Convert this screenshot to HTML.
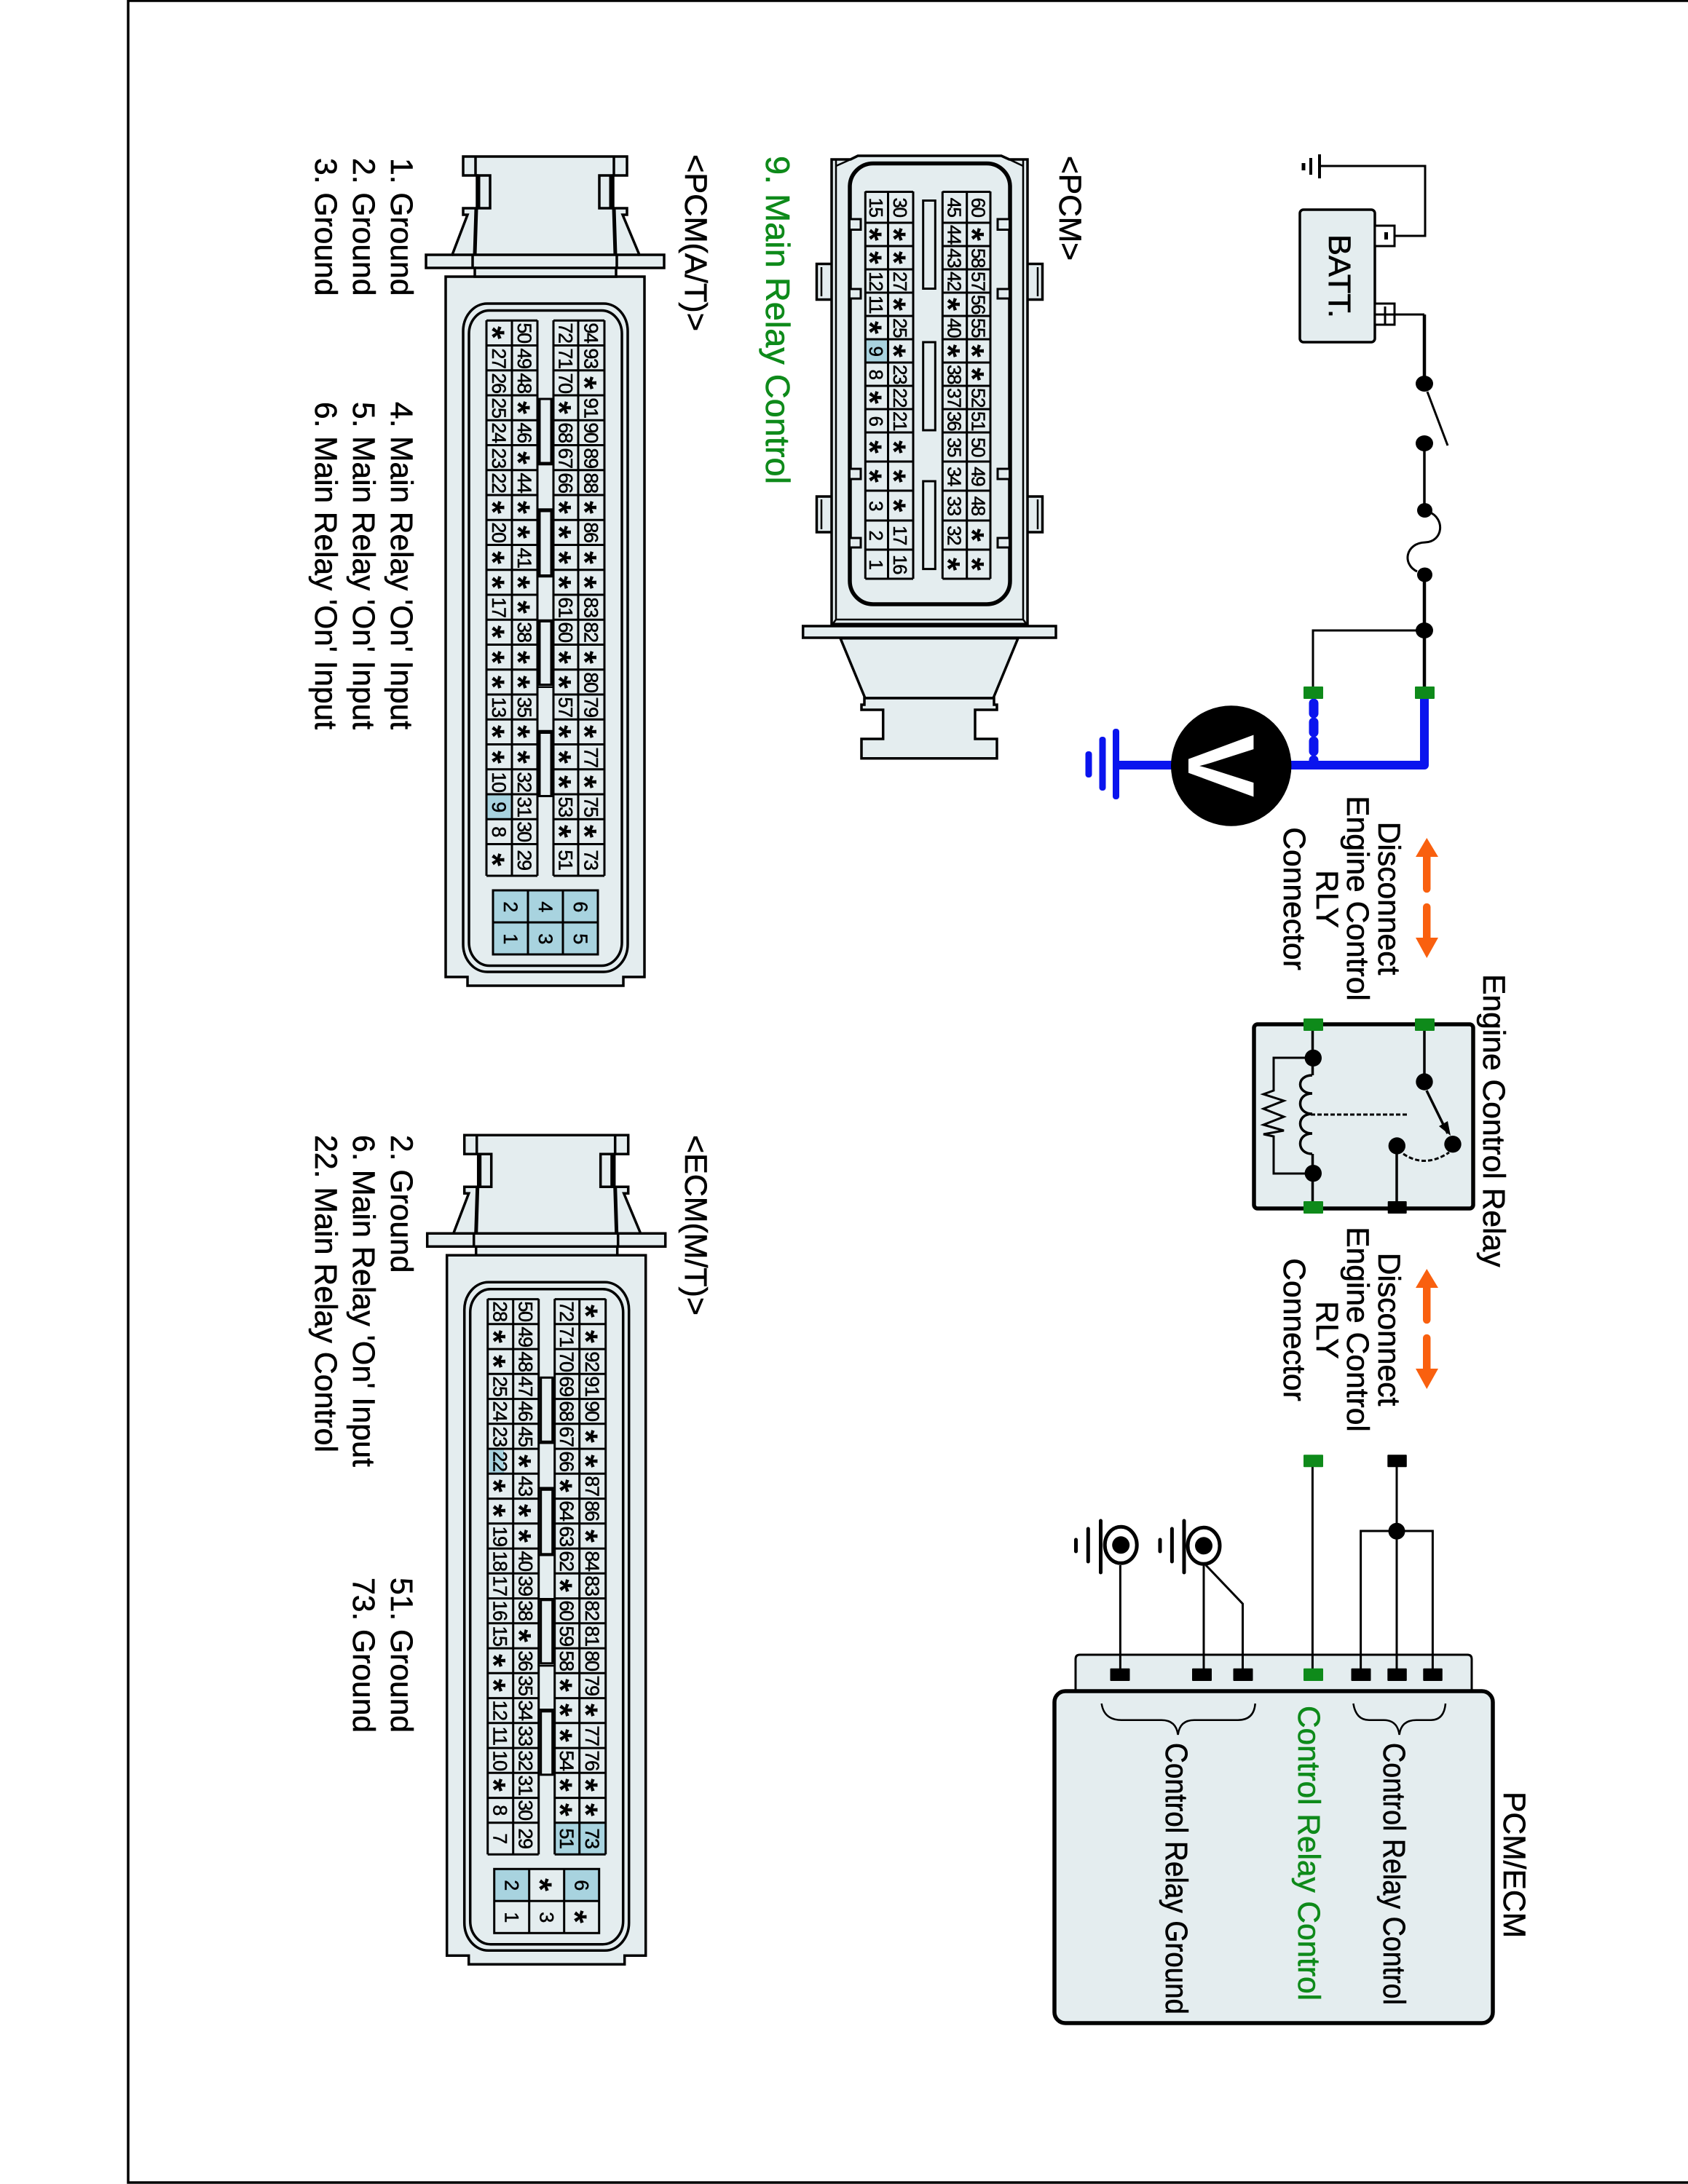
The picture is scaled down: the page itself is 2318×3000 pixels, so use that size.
<!DOCTYPE html>
<html lang="en"><head><meta charset="utf-8"><title>Main Relay Control</title>
<style>
html,body{margin:0;padding:0;background:#fff}
svg{display:block}
text{font-family:"Liberation Sans",Arial,sans-serif;fill:#000}
.n{font-size:27px;letter-spacing:-1.4px;text-anchor:middle;stroke:#000;stroke-width:.5}
.p{font-size:26px;letter-spacing:-1.4px;text-anchor:middle;stroke:#000;stroke-width:.5}
.s{font-size:46px;font-weight:bold;text-anchor:middle}
.l{font-size:42.6px;stroke:#000;stroke-width:.6}
.c{font-size:42.6px;text-anchor:middle;stroke:#000;stroke-width:.6}
.g{fill:#0e8a1a;stroke:#0e8a1a}
</style></head><body>
<svg xmlns="http://www.w3.org/2000/svg" width="2318" height="3000" viewBox="0 0 2318 3000">
<defs>
<g id="sh" fill="none" stroke="#000" stroke-width="3.5">
<path fill="#e4edef" d="M612 380H885V1342H856V1354H642V1342H612Z"/>
<path fill="#e4edef" d="M636 215H861V241H842V286H861V295H855L878 350H912V368H846V380H652V368H585V350H621L642 295H636V286H655V241H636Z"/>
<path d="M653 215V241M843 215V241M655 241H673V286H655M841 241H823V286H841M621 350H878M652 368H846M649 350V368M847 350V368"/>
<path stroke-width="5" d="M657 241V286M839 241V286M654 286L652 350M843 286L845 350"/>
<rect x="636" y="417" width="226" height="918" rx="33" ry="38"/>
<rect x="644" y="426.5" width="210" height="900" rx="28" ry="32"/>
</g>
<g id="gr" fill="none" stroke="#000" stroke-width="3">
<path stroke-dasharray="70 22 70 0" d="M668 440.3H830M668 474.5H830M668 508.8H830M668 543H830M668 577.3H830M668 611.5H830M668 645.8H830M668 680H830M668 714.3H830M668 748.5H830M668 782.8H830M668 817H830M668 851.3H830M668 885.5H830M668 919.8H830M668 954H830M668 988.3H830M668 1022.5H830M668 1056.8H830M668 1091H830M668 1125.3H830M668 1159.5H830M668 1203H830"/>
<path d="M668 440V1203M703 440V1203M738 440V1203M760 440V1203M794 440V1203M830 440V1203"/>
<rect x="741" y="548" width="16" height="88" stroke-width="3"/>
<rect x="741" y="702" width="16" height="88.5" stroke-width="3"/>
<rect x="741" y="853.5" width="16" height="87" stroke-width="3"/>
<rect x="741" y="1006.5" width="16" height="87" stroke-width="3"/>
<path stroke-width="2.5" d="M738 638H760M738 699.5H760M738 792H760M738 852H760M738 943.8H760M738 1004H760"/>
<path stroke-width="4" d="M759 548V636M759 702V790M759 853V941M759 1006V1094"/>
<rect x="677" y="1223" width="144" height="88"/>
<path d="M725 1223V1311M773 1223V1311M677 1267H821"/>
</g>
</defs>

<!-- page frame -->
<path d="M2318 1H176V2998H2318" fill="none" stroke="#000" stroke-width="3.5"/>

<!-- battery & top circuit -->
<g fill="none" stroke="#000">
<path stroke-width="3" d="M1812 228H1957V324H1915"/>
<path stroke-width="4" d="M1812 212V245M1800 217V240"/><path stroke-width="5" d="M1790 224V234"/>
<rect x="1785" y="288" width="103" height="182" rx="5" fill="#e4edef" stroke-width="3.5"/>
<rect x="1888" y="310" width="27" height="28" fill="#fff" stroke-width="3"/>
<rect x="1888" y="417" width="27" height="29" fill="#fff" stroke-width="3"/>
<path stroke-width="3" d="M1888 432H1915M1902 421V446"/>
<path stroke-width="3" d="M1915 432H1956"/>
<path stroke-width="4.5" d="M1956 432V527"/>
<path stroke-width="3" d="M1960 538L1988 612"/>
<path stroke-width="3.5" d="M1956 609V701"/>
<path stroke-width="3" d="M1962 703C1985 712 1982 744 1957 745C1930 746 1925 775 1946 785"/>
<path stroke-width="4.5" d="M1956 790V943"/>
<path stroke-width="3" d="M1956 866H1803V943"/>
</g>
<rect x="1901" y="319" width="5" height="10"/>
<ellipse cx="1956" cy="527" rx="12" ry="11"/>
<ellipse cx="1956" cy="609" rx="12" ry="11"/>
<ellipse cx="1956.5" cy="701" rx="10.5" ry="10"/>
<ellipse cx="1956.5" cy="789.5" rx="10.5" ry="10"/>
<ellipse cx="1956" cy="866" rx="12" ry="11"/>
<!-- blue wires & voltmeter -->
<g fill="none" stroke="#0a14ee" stroke-width="12">
<path d="M1956 960V1051H1537" stroke-linejoin="round"/>
<path stroke-width="13" stroke-linecap="round" stroke-dasharray="14 12" d="M1804 966V1046"/>
</g>
<g fill="#0a14ee">
<rect x="1528" y="1001" width="9" height="97" rx="4"/><rect x="1509.5" y="1012" width="9" height="74" rx="4"/><rect x="1490.5" y="1032" width="9" height="36" rx="4"/>
</g>
<circle cx="1690.7" cy="1052" r="82.7"/>
<g fill="#0e8a1a">
<rect x="1790" y="943" width="27" height="17" rx="1"/><rect x="1943" y="943" width="27" height="17" rx="1"/>
</g>
<!-- orange arrows -->
<g fill="#f9600f">
<path d="M1959.3 1151L1975 1177H1964.5V1221A5 5 0 0 1 1954 1221V1177H1944Z"/>
<path d="M1959.3 1316L1975 1288H1964.5V1246A5 5 0 0 0 1954 1246V1288H1944Z"/>
<path d="M1959.3 1743L1975 1769H1964.5V1813A5 5 0 0 1 1954 1813V1769H1944Z"/>
<path d="M1959.3 1908L1975 1880H1964.5V1838A5 5 0 0 0 1954 1838V1880H1944Z"/>
</g>
<!-- relay -->
<rect x="1722" y="1407" width="301" height="253" rx="5" fill="#e4edef" stroke="#000" stroke-width="5.5"/>
<g fill="none" stroke="#000" stroke-width="3">
<path stroke-width="3.5" d="M1802.5 1416V1453M1802.5 1453V1477M1802.5 1585V1650"/>
<path stroke-width="3.5" d="M1802 1477C1780 1477 1780 1502 1802 1502C1780 1502 1780 1530 1802 1530C1780 1530 1780 1557 1802 1557C1780 1557 1780 1585 1802 1585"/>
<path stroke-width="3" d="M1795 1453H1749V1498L1735 1503L1763 1512L1735 1523L1763 1534L1735 1545L1763 1553L1735 1558L1749 1561V1612H1795"/>
<path stroke-width="3" stroke-dasharray="6 3" d="M1800 1531H1935"/>
<path stroke-width="3.5" d="M1956 1416V1486M1959 1498L1988 1557M1918 1574V1650"/>
<path stroke-width="3" stroke-dasharray="6 3" d="M1927 1585Q1957 1605 1990 1583"/>
</g>
<path d="M1976 1547L1992 1560L1988 1540Z"/>
<circle cx="1803.3" cy="1453.3" r="11.7"/><circle cx="1803.3" cy="1611.7" r="11.7"/>
<circle cx="1956" cy="1486" r="11.7"/><circle cx="1995" cy="1571.7" r="11.7"/><circle cx="1918.3" cy="1574" r="11.7"/>
<g fill="#0e8a1a"><rect x="1790" y="1399" width="27" height="17" rx="1"/><rect x="1943" y="1399" width="27" height="17" rx="1"/><rect x="1790" y="1650" width="27" height="17" rx="1"/></g>
<rect x="1905.7" y="1650" width="26" height="17" rx="1"/>
<!-- PCM/ECM block -->
<path d="M1477 2323V2279Q1477 2273 1483 2273H2015Q2021 2273 2021 2279V2323Z" fill="#e4edef" stroke="#000" stroke-width="3"/>
<rect x="1448" y="2323" width="602" height="456" rx="15" fill="#e4edef" stroke="#000" stroke-width="5.5"/>
<g fill="none" stroke="#000" stroke-width="3">
<path d="M1802.4 2015V2292M1918 2015V2292M1868.6 2292V2103H1967.4V2292M1538.4 2150V2292M1653 2150V2292M1656 2150L1706.5 2203V2292"/>
<path stroke-width="2.5" d="M1512.7 2340Q1516 2362.7 1540 2362.7H1595Q1615 2362.7 1617.6 2383Q1620 2362.7 1640 2362.7H1700Q1722 2362.7 1723.7 2340"/>
<path stroke-width="2.5" d="M1858.4 2340Q1862 2362.7 1880 2362.7H1900Q1919 2362.7 1921.6 2383Q1924 2362.7 1945 2362.7H1965Q1983 2362.7 1985 2340"/>
<ellipse cx="1539.2" cy="2122.3" rx="22" ry="25" stroke-width="5" fill="#fff"/>
<ellipse cx="1653" cy="2123.3" rx="22" ry="25" stroke-width="5" fill="#fff"/>
<path stroke-width="5" stroke-linecap="round" d="M1511.5 2089V2160M1494.3 2100V2145M1477.5 2115V2131M1626 2089V2160M1609.4 2100V2145M1593 2115V2131"/>
</g>
<circle cx="1539.2" cy="2122.3" r="12"/><circle cx="1653" cy="2123.3" r="12"/>
<ellipse cx="1918" cy="2103.3" rx="11.5" ry="11.5"/>
<rect x="1905.3" y="1998.3" width="26.5" height="17" rx="1"/>
<rect x="1790" y="1998.3" width="27" height="17" rx="1" fill="#0e8a1a"/>
<g>
<rect x="1524.5" y="2291.7" width="27" height="17.3" rx="1"/><rect x="1637" y="2291.7" width="27" height="17.3" rx="1"/><rect x="1693.5" y="2291.7" width="27" height="17.3" rx="1"/>
<rect x="1790" y="2291.7" width="27" height="17.3" rx="1" fill="#0e8a1a"/>
<rect x="1855.5" y="2291.7" width="27" height="17.3" rx="1"/><rect x="1905.3" y="2291.7" width="26.5" height="17.3" rx="1"/><rect x="1954.3" y="2291.7" width="26.5" height="17.3" rx="1"/>
</g>

<!-- PCM connector -->
<g fill="#e4edef" stroke="#000" stroke-width="3.5">
<rect x="1121.5" y="362.5" width="26" height="49"/><rect x="1121.5" y="682" width="26" height="49"/>
<rect x="1405" y="362.5" width="26.5" height="49"/><rect x="1405" y="682" width="26.5" height="49"/>
<path d="M1142 219H1168L1178 214H1375L1386 219H1411V859H1142Z"/>
<path fill="none" stroke-width="2.5" d="M1148 219V851H1405V219M1148 851L1142 859M1405 851L1411 859M1148 228L1168 219M1405 228L1386 219M1128 367V407M1425 367V407M1128 686V727M1425 686V727"/>
<path stroke-width="5" d="M1142 858H1411"/>
<rect x="1102.7" y="860" width="347.3" height="16"/>
<path d="M1154 876.7H1398L1364 959H1188Z"/>
<path d="M1187 959H1365V968H1369V975H1339V1015H1369V1041.7H1183V1015H1212.7V975H1183V968H1187Z"/>
</g>
<rect x="1167" y="224.5" width="220" height="605.5" rx="32" fill="#e4edef" stroke="#000" stroke-width="5.5"/>
<g fill="#e4edef" stroke="#000" stroke-width="3">
<path d="M1168 301H1182V315.5H1168M1168 397H1182V410H1168M1168 644H1182V658H1168M1168 739H1182V752H1168"/>
<path d="M1385 301H1370V315.5H1385M1385 397H1370V410H1385M1385 644H1370V658H1385M1385 739H1370V752H1385"/>
<rect x="1267.7" y="275.5" width="16.6" height="121"/><rect x="1267.7" y="470" width="16.6" height="121"/><rect x="1267.7" y="661" width="16.6" height="120.6"/>
</g>
<rect x="1189" y="466" width="30" height="32" fill="#a8d3df"/>
<g fill="none" stroke="#000" stroke-width="3">
<path stroke-dasharray="65.7 40.3 65.7 0" d="M1188.3 263.5H1360M1188.3 306H1360M1188.3 338H1360M1188.3 370H1360M1188.3 402H1360M1188.3 434H1360M1188.3 466H1360M1188.3 498H1360M1188.3 530H1360M1188.3 562H1360M1188.3 594H1360M1188.3 634H1360M1188.3 674H1360M1188.3 715H1360M1188.3 755H1360M1188.3 795H1360"/>
<path d="M1188.3 263V795M1219.5 263V795M1254 263V795M1294.3 263V795M1327.7 263V795M1360 263V795"/>
</g>

<!-- A/T connector -->
<use href="#sh"/>
<rect x="669" y="1091" width="34" height="34" fill="#a8d3df"/>
<rect x="677" y="1223" width="144" height="88" fill="#a8d3df"/>
<use href="#gr"/>

<!-- M/T connector -->
<g transform="translate(1.7 1344.3)"><use href="#sh"/></g>
<rect x="672" y="1990" width="20" height="34" fill="#a8d3df"/>
<rect x="762" y="2504" width="34" height="44" fill="#a8d3df"/>
<rect x="796" y="2504" width="36" height="44" fill="#a8d3df"/>
<rect x="679" y="2567" width="48" height="44" fill="#a8d3df"/>
<rect x="774" y="2567" width="48" height="44" fill="#a8d3df"/>
<g transform="translate(1.7 1344.3)"><use href="#gr"/></g>

<!-- all text, rotated 90deg clockwise: local (u,v) = page (y, 2318-x) -->
<g transform="translate(2318 0) rotate(90)">
<text class="l" x="322" y="493" textLength="115" lengthAdjust="spacingAndGlyphs">BATT.</text>
<text x="1052" y="686" text-anchor="middle" font-size="130" font-weight="bold" style="fill:#fff">V</text>

<text class="c" x="1234" y="425">Disconnect</text>
<text class="c" x="1234" y="468">Engine Control</text>
<text class="c" x="1235" y="510">RLY</text>
<text class="c" x="1234.5" y="555">Connector</text>
<text class="c" x="1826" y="425">Disconnect</text>
<text class="c" x="1826" y="468">Engine Control</text>
<text class="c" x="1827" y="510">RLY</text>
<text class="c" x="1826.5" y="555">Connector</text>
<text class="l" x="1338" y="281">Engine Control Relay</text>
<text class="l" x="2461" y="253">PCM/ECM</text>
<text class="l" x="2394" y="418" textLength="360" lengthAdjust="spacingAndGlyphs">Control Relay Control</text>
<text class="l g" x="2343" y="535" textLength="405" lengthAdjust="spacingAndGlyphs">Control Relay Control</text>
<text class="l" x="2394" y="717" textLength="373" lengthAdjust="spacingAndGlyphs">Control Relay Ground</text>

<text class="l" x="214" y="863" textLength="144" lengthAdjust="spacingAndGlyphs">&lt;PCM&gt;</text>
<text class="l g" x="214" y="1266" textLength="451" lengthAdjust="spacingAndGlyphs" style="font-size:46px">9. Main Relay Control</text>
<text class="l" x="212" y="1377" textLength="243" lengthAdjust="spacingAndGlyphs">&lt;PCM(A/T)&gt;</text>
<text class="l" x="1559" y="1377" textLength="248" lengthAdjust="spacingAndGlyphs">&lt;ECM(M/T)&gt;</text>

<text class="l" x="217" y="1781">1. Ground</text>
<text class="l" x="217" y="1833">2. Ground</text>
<text class="l" x="217" y="1885">3. Ground</text>
<text class="l" x="552" y="1781" textLength="450" lengthAdjust="spacingAndGlyphs">4. Main Relay 'On' Input</text>
<text class="l" x="552" y="1833" textLength="450" lengthAdjust="spacingAndGlyphs">5. Main Relay 'On' Input</text>
<text class="l" x="552" y="1885" textLength="450" lengthAdjust="spacingAndGlyphs">6. Main Relay 'On' Input</text>
<text class="l" x="1559" y="1781">2. Ground</text>
<text class="l" x="1559" y="1833" textLength="456" lengthAdjust="spacingAndGlyphs">6. Main Relay 'On' Input</text>
<text class="l" x="1559" y="1885" textLength="436" lengthAdjust="spacingAndGlyphs">22. Main Relay Control</text>
<text class="l" x="2167" y="1781">51. Ground</text>
<text class="l" x="2167" y="1833">73. Ground</text>

<!-- PCM pins -->
<text class="p" y="1123.8"><tspan x="284.5">15</tspan><tspan x="386">12</tspan><tspan x="418">11</tspan><tspan x="482">9</tspan><tspan x="514">8</tspan><tspan x="578">6</tspan><tspan x="694.5">3</tspan><tspan x="735">2</tspan><tspan x="775">1</tspan></text>
<text class="p" y="1091"><tspan x="284.5">30</tspan><tspan x="386">27</tspan><tspan x="450">25</tspan><tspan x="514">23</tspan><tspan x="546">22</tspan><tspan x="578">21</tspan><tspan x="735">17</tspan><tspan x="775">16</tspan></text>
<text class="p" y="1016.5"><tspan x="284.5">45</tspan><tspan x="322">44</tspan><tspan x="354">43</tspan><tspan x="386">42</tspan><tspan x="450">40</tspan><tspan x="514">38</tspan><tspan x="546">37</tspan><tspan x="578">36</tspan><tspan x="614">35</tspan><tspan x="654">34</tspan><tspan x="694.5">33</tspan><tspan x="735">32</tspan></text>
<text class="p" y="983.5"><tspan x="284.5">60</tspan><tspan x="354">58</tspan><tspan x="386">57</tspan><tspan x="418">56</tspan><tspan x="450">55</tspan><tspan x="546">52</tspan><tspan x="578">51</tspan><tspan x="614">50</tspan><tspan x="654">49</tspan><tspan x="694.5">48</tspan></text>
<text class="s" y="1139.3" x="322 354 450 546 614 654">******</text>
<text class="s" y="1106.5" x="322 354 418 482 614 654 694.5">*******</text>
<text class="s" y="1032" x="418 482 775">***</text>
<text class="s" y="999" x="322 482 514 735 775">*****</text>

<!-- A/T pins -->
<text class="n" y="1642"><tspan x="492">27</tspan><tspan x="526">26</tspan><tspan x="560">25</tspan><tspan x="594">24</tspan><tspan x="629">23</tspan><tspan x="663">22</tspan><tspan x="731">20</tspan><tspan x="834">17</tspan><tspan x="971">13</tspan><tspan x="1074">10</tspan><tspan x="1108">9</tspan><tspan x="1142">8</tspan></text>
<text class="n" y="1607"><tspan x="457">50</tspan><tspan x="492">49</tspan><tspan x="526">48</tspan><tspan x="594">46</tspan><tspan x="663">44</tspan><tspan x="766">41</tspan><tspan x="868">38</tspan><tspan x="971">35</tspan><tspan x="1074">32</tspan><tspan x="1108">31</tspan><tspan x="1142">30</tspan><tspan x="1181">29</tspan></text>
<text class="n" y="1550.5"><tspan x="457">72</tspan><tspan x="492">71</tspan><tspan x="526">70</tspan><tspan x="594">68</tspan><tspan x="629">67</tspan><tspan x="663">66</tspan><tspan x="834">61</tspan><tspan x="868">60</tspan><tspan x="971">57</tspan><tspan x="1108">53</tspan><tspan x="1181">51</tspan></text>
<text class="n" y="1515.5"><tspan x="457">94</tspan><tspan x="492">93</tspan><tspan x="560">91</tspan><tspan x="594">90</tspan><tspan x="629">89</tspan><tspan x="663">88</tspan><tspan x="731">86</tspan><tspan x="834">83</tspan><tspan x="868">82</tspan><tspan x="937">80</tspan><tspan x="971">79</tspan><tspan x="1040">77</tspan><tspan x="1108">75</tspan><tspan x="1181">73</tspan></text>
<text class="s" y="1657.5" x="457 697 766 800 868 903 937 1005 1040 1181">**********</text>
<text class="s" y="1622.5" x="560 629 697 731 800 834 903 937 1005 1040">**********</text>
<text class="s" y="1566" x="560 697 731 766 800 903 937 1005 1040 1074 1142">***********</text>
<text class="s" y="1531" x="526 697 766 800 903 1005 1074 1142">********</text>
<text class="n" y="1626"><tspan x="1245">2</tspan><tspan x="1289">1</tspan></text>
<text class="n" y="1578"><tspan x="1245">4</tspan><tspan x="1289">3</tspan></text>
<text class="n" y="1530"><tspan x="1245">6</tspan><tspan x="1289">5</tspan></text>

<!-- M/T pins -->
<text class="n" y="1640.3"><tspan x="1801">28</tspan><tspan x="1904">25</tspan><tspan x="1938">24</tspan><tspan x="1973">23</tspan><tspan x="2007">22</tspan><tspan x="2110">19</tspan><tspan x="2144">18</tspan><tspan x="2178">17</tspan><tspan x="2212">16</tspan><tspan x="2247">15</tspan><tspan x="2349">12</tspan><tspan x="2384">11</tspan><tspan x="2418">10</tspan><tspan x="2486">8</tspan><tspan x="2525">7</tspan></text>
<text class="n" y="1605.3"><tspan x="1801">50</tspan><tspan x="1836">49</tspan><tspan x="1870">48</tspan><tspan x="1904">47</tspan><tspan x="1938">46</tspan><tspan x="1973">45</tspan><tspan x="2041">43</tspan><tspan x="2144">40</tspan><tspan x="2178">39</tspan><tspan x="2212">38</tspan><tspan x="2281">36</tspan><tspan x="2315">35</tspan><tspan x="2349">34</tspan><tspan x="2384">33</tspan><tspan x="2418">32</tspan><tspan x="2452">31</tspan><tspan x="2486">30</tspan><tspan x="2525">29</tspan></text>
<text class="n" y="1548.8"><tspan x="1801">72</tspan><tspan x="1836">71</tspan><tspan x="1870">70</tspan><tspan x="1904">69</tspan><tspan x="1938">68</tspan><tspan x="1973">67</tspan><tspan x="2007">66</tspan><tspan x="2075">64</tspan><tspan x="2110">63</tspan><tspan x="2144">62</tspan><tspan x="2212">60</tspan><tspan x="2247">59</tspan><tspan x="2281">58</tspan><tspan x="2418">54</tspan><tspan x="2525">51</tspan></text>
<text class="n" y="1513.8"><tspan x="1870">92</tspan><tspan x="1904">91</tspan><tspan x="1938">90</tspan><tspan x="2041">87</tspan><tspan x="2075">86</tspan><tspan x="2144">84</tspan><tspan x="2178">83</tspan><tspan x="2212">82</tspan><tspan x="2247">81</tspan><tspan x="2281">80</tspan><tspan x="2315">79</tspan><tspan x="2384">77</tspan><tspan x="2418">76</tspan><tspan x="2525">73</tspan></text>
<text class="s" y="1655.8" x="1836 1870 2041 2075 2281 2315 2452">*******</text>
<text class="s" y="1620.8" x="2007 2075 2110 2247">****</text>
<text class="s" y="1564.3" x="2041 2178 2315 2349 2384 2452 2486">*******</text>
<text class="s" y="1529.3" x="1801 1836 1973 2007 2110 2349 2452 2486">********</text>
<text class="n" y="1624.3"><tspan x="2589">2</tspan><tspan x="2633">1</tspan></text>
<text class="n" y="1576.3" x="2633">3</text>
<text class="n" y="1528.3" x="2589">6</text>
<text class="s" y="1592.3" x="2589">*</text>
<text class="s" y="1544.3" x="2633">*</text>
</g>
</svg>
</body></html>
